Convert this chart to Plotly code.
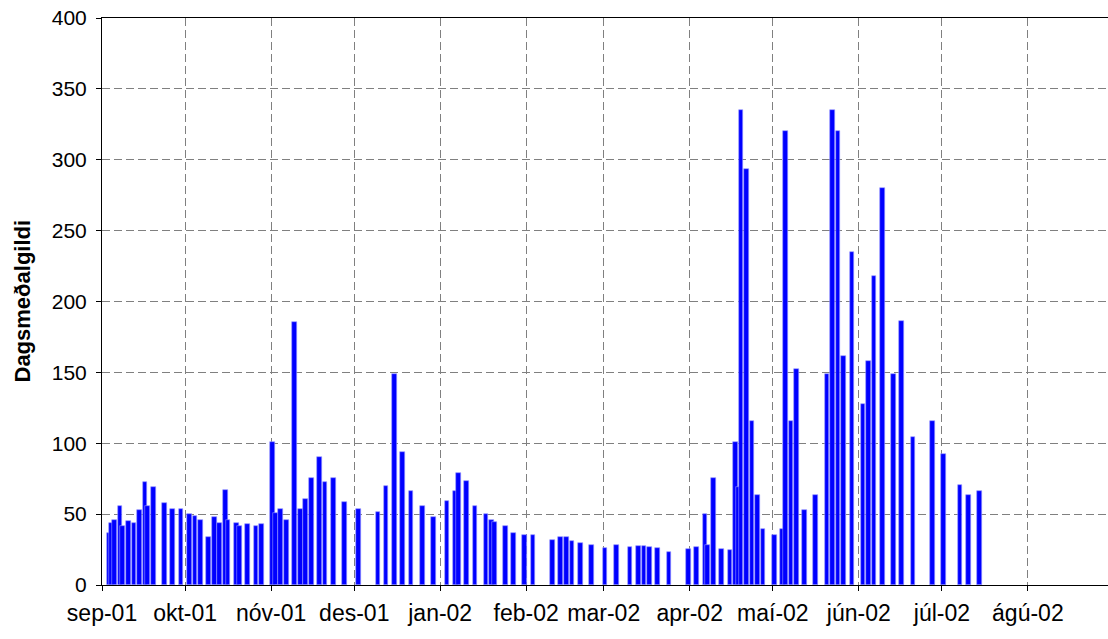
import pandas as pd
import plotly.graph_objects as go

# Daily mean values, Sep 2001 - Jul 2002
dates = [
    "2001-09-03", "2001-09-04", "2001-09-05", "2001-09-07", "2001-09-08", "2001-09-10",
    "2001-09-12", "2001-09-14", "2001-09-16", "2001-09-17", "2001-09-19", "2001-09-23",
    "2001-09-26", "2001-09-29", "2001-10-02", "2001-10-04", "2001-10-06", "2001-10-09",
    "2001-10-11", "2001-10-13", "2001-10-15", "2001-10-16", "2001-10-19", "2001-10-20",
    "2001-10-23", "2001-10-26", "2001-10-28", "2001-11-01", "2001-11-02", "2001-11-04",
    "2001-11-06", "2001-11-09", "2001-11-11", "2001-11-13", "2001-11-15", "2001-11-18",
    "2001-11-20", "2001-11-23", "2001-11-27", "2001-12-02", "2001-12-09", "2001-12-12",
    "2001-12-15", "2001-12-18", "2001-12-21", "2001-12-25", "2001-12-29", "2002-01-03",
    "2002-01-06", "2002-01-07", "2002-01-10", "2002-01-13", "2002-01-17", "2002-01-19",
    "2002-01-20", "2002-01-24", "2002-01-27", "2002-01-31", "2002-02-03", "2002-02-10",
    "2002-02-13", "2002-02-15", "2002-02-17", "2002-02-20", "2002-02-24", "2002-03-01",
    "2002-03-05", "2002-03-10", "2002-03-13", "2002-03-15", "2002-03-17", "2002-03-20",
    "2002-03-24", "2002-03-31", "2002-04-03", "2002-04-06", "2002-04-07", "2002-04-09",
    "2002-04-12", "2002-04-15", "2002-04-17", "2002-04-18", "2002-04-19", "2002-04-21",
    "2002-04-23", "2002-04-25", "2002-04-27", "2002-05-01", "2002-05-04", "2002-05-05",
    "2002-05-07", "2002-05-09", "2002-05-12", "2002-05-16", "2002-05-20", "2002-05-22",
    "2002-05-24", "2002-05-26", "2002-05-29", "2002-06-02", "2002-06-04", "2002-06-06",
    "2002-06-09", "2002-06-13", "2002-06-16", "2002-06-20", "2002-06-27", "2002-07-01",
    "2002-07-07", "2002-07-10", "2002-07-14",
]

values = [
    37, 43.5, 46, 55.7, 41.6, 45,
    43.5, 52.7, 72.4, 55.7, 69.1, 57.6,
    53.6, 53.6, 49.9, 48.7, 45.9, 33.6,
    48, 43.5, 66.8, 45.9, 43.5, 41.6,
    43, 41.6, 43, 100.6, 51, 53.6,
    45.6, 185.8, 53.4, 60.4, 75.7, 90.5,
    72.4, 75.7, 58.3, 53.4, 51.3, 69.6,
    148.9, 93.6, 66.3, 55.5, 47.7, 59.3,
    66.3, 78.8, 73.6, 55.5, 50.3, 46.1,
    44.4, 41.4, 36.4, 35.0, 35.0, 31.5,
    34.1, 33.9, 30.8, 29.4, 28.5, 25.9,
    28.5, 26.6, 27.3, 27.3, 26.6, 25.9,
    23.0, 25.4, 26.6, 49.9, 28.5, 75.7,
    25.4, 24.9, 100.6, 69.4, 335.1, 293.2,
    115.7, 63.7, 39.5, 35.5, 39.5, 320.3,
    115.7, 152.6, 52.7, 63.7, 148.9, 335.1,
    320.3, 161.6, 234.7, 127.7, 157.8, 217.8,
    279.8, 148.9, 186.0, 104.4, 115.5, 92.4,
    70.5, 63.7, 66.1,
]

# Month ticks on the date axis
month_starts = [
    "2001-09-01", "2001-10-01", "2001-11-01", "2001-12-01", "2002-01-01", "2002-02-01",
    "2002-03-01", "2002-04-01", "2002-05-01", "2002-06-01", "2002-07-01", "2002-08-01",
]
month_labels = [
    "sep-01", "okt-01", "nóv-01", "des-01", "jan-02", "feb-02",
    "mar-02", "apr-02", "maí-02", "jún-02", "júl-02", "ágú-02",
]

y_title = "Dagsmeðalgildi"

FONT = "Liberation Sans, Arial, sans-serif"
DAY_MS = 86400000

# each bar sits in the middle of its day
x_pos = pd.to_datetime(dates) + pd.Timedelta(hours=12)

fig = go.Figure(
    go.Bar(
        x=x_pos,
        y=values,
        width=1.68 * DAY_MS,
        marker=dict(color="#0000FF", line=dict(color="#9a9aff", width=0.6)),
        hoverinfo="x+y",
    )
)

fig.update_layout(
    width=1108,
    height=639,
    margin=dict(l=102, r=0, t=18, b=54),
    paper_bgcolor="white",
    plot_bgcolor="white",
    showlegend=False,
    font=dict(family=FONT, size=21, color="black"),
    bargap=0,
)

fig.update_xaxes(
    type="date",
    range=["2001-09-01", "2002-08-29 21:36"],
    tickvals=month_starts,
    ticktext=month_labels,
    ticks="outside",
    ticklen=5,
    tickcolor="black",
    ticklabelstandoff=2,
    showline=True,
    linecolor="black",
    linewidth=1,
    mirror=True,
    showgrid=True,
    gridcolor="#808080",
    gridwidth=1,
    griddash="8px,4px",
    zeroline=False,
    tickfont=dict(family=FONT, size=23, color="black"),
)

fig.update_yaxes(
    range=[0, 400],
    tickvals=[0, 50, 100, 150, 200, 250, 300, 350, 400],
    ticks="outside",
    ticklen=5,
    tickcolor="black",
    ticklabelstandoff=5,
    showline=True,
    linecolor="black",
    linewidth=1,
    mirror=False,
    showgrid=True,
    gridcolor="#808080",
    gridwidth=1,
    griddash="8px,4px",
    zeroline=False,
    tickfont=dict(family=FONT, size=21, color="black"),
)

fig.add_annotation(
    text="<b>" + y_title + "</b>",
    xref="paper",
    yref="paper",
    x=-80 / 1006,
    y=0.5,
    xanchor="center",
    yanchor="middle",
    textangle=-90,
    showarrow=False,
    font=dict(family=FONT, size=22, color="black"),
)

fig.write_html("out.html")
